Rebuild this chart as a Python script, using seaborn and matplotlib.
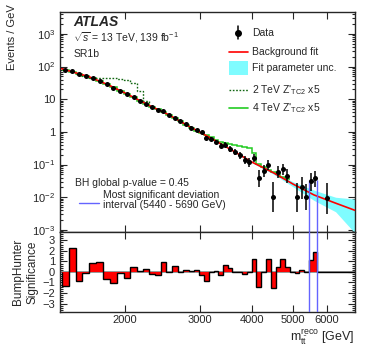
import numpy as np
import matplotlib
matplotlib.use("Agg")
import matplotlib.pyplot as plt
import seaborn as sns
from matplotlib.ticker import FixedLocator, NullFormatter, LogLocator, MultipleLocator

sns.set_theme(style="ticks")
plt.rcParams["font.family"] = ["Liberation Sans", "DejaVu Sans"]
plt.rcParams["mathtext.fontset"] = "custom"
plt.rcParams["mathtext.rm"] = "Liberation Sans"
plt.rcParams["mathtext.it"] = "Liberation Sans:italic"
plt.rcParams["mathtext.bf"] = "Liberation Sans:bold"

# ---------------------------------------------------------------------------
# data
# ---------------------------------------------------------------------------
bin_edges = [1415, 1468, 1525, 1584, 1645, 1708, 1773, 1840, 1910, 1982,
             2056, 2130, 2203, 2275, 2350, 2426, 2502, 2580, 2660, 2740,
             2825, 2910, 2995, 3075, 3155, 3240, 3325, 3410, 3500, 3590,
             3685, 3785, 3885, 3985, 4090, 4200, 4310, 4420, 4540, 4655,
             4780, 4905, 5035, 5165, 5300, 5440, 5565, 5690, 5815, 5940,
             6065, 6195, 6325, 6455, 6590, 6725, 6860, 7000]

nan = np.nan
data_vals = [78, 71.7, 59.1, 51.8, 44.2, 36.2, 28.5, 22.5, 18.2, 14.1,
             11.6, 9.05, 7.32, 5.88, 4.76, 4.22, 3.27, 2.73, 2.09, 1.71,
             1.36, 1.12, 0.96, 0.66, 0.60, 0.49, 0.38, 0.41, 0.30, 0.246,
             0.19, 0.14, 0.118, 0.161, 0.0376, 0.0646, 0.10, 0.0105, 0.060, 0.072,
             0.0455, nan, 0.0100, 0.021, 0.0100, 0.031, 0.0376, nan, nan, 0.0097,
             nan, nan, nan, nan, nan, nan, nan]

sig_vals = [-1.3, 2.27, -0.9, -0.1, 0.85, 0.9, -0.67, -1.05, -0.1, -0.55,
            0.45, 0.05, 0.25, -0.15, -0.3, 0.97, -0.05, 0.6, -0.05, 0.2,
            0.05, 0.15, -0.3, -0.9, 0.0, 0.05, -0.3, 0.65, 0.4, 0.0,
            0.0, -0.2, -0.05, 1.27, -1.42, 0.0, 1.27, -1.5, 0.45, 1.2,
            0.45, 0.0, -0.1, 0.15, 0.0, 1.15, 1.88, 0, 0, 0,
            0, 0, 0, 0, 0, 0, 0]

fit_mass = [1415, 1640, 1830, 2040, 2270, 2530, 2840, 3200, 3600, 4000,
            4500, 5000, 5600, 6300, 7000]
fit_vals = [85.1, 49.0, 26.9, 13.5, 6.61, 3.39, 1.45, 0.631, 0.263, 0.1175,
            0.055, 0.0251, 0.01175, 0.0066, 0.00398]

band_mass = [3600, 4000, 4500, 5000, 5600, 6300, 7000]
band_lo = [0.256, 0.112, 0.050, 0.0207, 0.0080, 0.0036, 0.0008]
band_hi = [0.270, 0.123, 0.060, 0.0295, 0.0165, 0.0100, 0.0088]

# 4 TeV Z'_TC2 x5 (signal + background), bins 0..40
z4_vals = [79.6, 69.2, 60.0, 51.9, 43.5, 35.5, 28.9, 23.1, 18.2, 14.4,
           11.4, 9.04, 7.24, 5.90, 4.84, 4.0, 3.28, 2.62, 2.10, 1.68,
           1.35, 1.10, 0.93, 0.79, 0.68, 0.575, 0.50, 0.447, 0.417, 0.39,
           0.363, 0.339, 0.316, 0.22, 0.105, 0.085, 0.070, 0.059, 0.050, 0.042,
           0.035]
# 2 TeV Z'_TC2 x5 (signal + background), bins 2..13
z2_vals = [60.0, 51.9, 46.0, 45.7, 44.7, 43.0, 41.5, 38.8, 30.2, 17.3, 9.0, 5.9]

bh_lo, bh_hi = 5440, 5690

edges = np.array(bin_edges, dtype=float)
widths = np.diff(edges)
centers = np.sqrt(edges[:-1] * edges[1:])
data = np.array(data_vals, dtype=float)

# Poisson-like error bars from the event counts
counts = np.round(data * widths)
lo_n = counts * (1 - 1 / (9 * counts) - 1 / (3 * np.sqrt(counts))) ** 3
hi_n = (counts + 1) * (1 - 1 / (9 * (counts + 1)) + 1 / (3 * np.sqrt(counts + 1))) ** 3
err_lo = (counts - lo_n) / widths
err_hi = (hi_n - counts) / widths

# ---------------------------------------------------------------------------
# figure
# ---------------------------------------------------------------------------
fig = plt.figure(figsize=(3.74, 3.59), dpi=100)
ax = fig.add_axes([0.160, 0.354, 0.789, 0.613])
ax2 = fig.add_axes([0.160, 0.131, 0.789, 0.223], sharex=ax)

red = "#ff0000"
cyan = "#7ffcff"
dgreen = "#116611"
lgreen = "#22cc22"
blue = "#6464ff"

ax.fill_between(band_mass, band_lo, band_hi, color=cyan, lw=0, zorder=1)
ax.stairs(z4_vals, edges[:len(z4_vals) + 1], color=lgreen, lw=1.1,
          baseline=None, zorder=2)
ax.stairs(z2_vals, edges[2:2 + len(z2_vals) + 1], color=dgreen, lw=1.0,
          ls=(0, (1.2, 1.2)), baseline=None, zorder=2)
sns.lineplot(x=fit_mass, y=fit_vals, ax=ax, color=red, lw=1.2, sort=False,
             estimator=None, zorder=3)
ax.errorbar(centers, data, yerr=[err_lo, err_hi], fmt="none", ecolor="black",
            elinewidth=1.1, zorder=4)
sns.scatterplot(x=centers, y=data, ax=ax, color="black", s=13, linewidth=0,
                zorder=5)
ax.vlines([bh_lo, bh_hi], 8e-4, 0.033, color=blue, lw=1.0, zorder=3)

ax.set_xscale("log")
ax.set_yscale("log")
ax.set_xlim(1400, 7000)
ax.set_ylim(8.7e-4, 4700)

ax.yaxis.set_major_locator(FixedLocator([1e-3, 1e-2, 1e-1, 1, 10, 100, 1000]))
ax.set_yticklabels(["10$^{-3}$", "10$^{-2}$", "10$^{-1}$", "1", "10",
                    "10$^{2}$", "10$^{3}$"], fontsize=8)
ax.yaxis.set_minor_locator(LogLocator(base=10, subs=np.arange(2, 10), numticks=20))
ax.yaxis.set_minor_formatter(NullFormatter())
ax.set_ylabel("")

xt = [2000, 3000, 4000, 5000, 6000]
ax.xaxis.set_major_locator(FixedLocator(xt))
ax.xaxis.set_minor_locator(FixedLocator([]))
ax.tick_params(axis="x", labelbottom=False)

for a in (ax, ax2):
    a.tick_params(which="both", direction="in", top=True, right=True, width=0.8)
    a.tick_params(which="major", length=5)
    a.tick_params(which="minor", length=2.5)
    for s in a.spines.values():
        s.set_linewidth(1.0)

# lower panel: BumpHunter significance
ax2.axhline(0, color="#888888", lw=1.2, zorder=1)
ax2.stairs(sig_vals, edges, fill=True, color=red, baseline=0, zorder=2)
ax2.stairs(sig_vals, edges, color="black", lw=1.0, baseline=0, zorder=3)
ax2.axvline(bh_lo, color=blue, lw=1.0, zorder=4)
ax2.axvline(bh_hi, color=blue, lw=1.0, zorder=4)
ax2.set_ylim(-3.8, 3.8)
ax2.yaxis.set_major_locator(MultipleLocator(1))
ax2.yaxis.set_minor_locator(MultipleLocator(0.2))
ax2.set_yticks([-3, -2, -1, 0, 1, 2, 3])
ax2.set_yticklabels(["\u22123", "\u22122", "\u22121", "0", "1", "2", "3"], fontsize=8)
ax2.xaxis.set_major_locator(FixedLocator(xt))
ax2.xaxis.set_minor_locator(FixedLocator([]))
ax2.set_xticklabels([str(v) for v in xt], fontsize=8)
ax2.tick_params(axis="x", pad=2.5)
ax2.set_ylabel("")
ax2.set_xlabel(r"m$_{\mathrm{t\bar{t}}}^{\mathrm{reco}}$ [GeV]", fontsize=9,
               loc="right", labelpad=1.5)

fig.text(12 / 374, 1 - 4 / 359, "Events / GeV", rotation=90, ha="center",
         va="top", fontsize=8)
fig.text(25 / 374, 1 - 272 / 359, "BumpHunter\nSignificance", rotation=90,
         ha="center", va="center", fontsize=8.5, linespacing=1.3)

# labels inside the main panel
tr = ax.transAxes
ax.text(0.045, 0.955, "ATLAS", transform=tr, fontsize=10, fontweight="bold",
        style="italic", va="center")
ax.text(0.045, 0.882, r"$\sqrt{s}$ = 13 TeV, 139 fb$^{-1}$", transform=tr,
        fontsize=7.5, va="center")
ax.text(0.045, 0.809, "SR1b", transform=tr, fontsize=7.5, va="center")
ax.text(0.05, 0.223, "BH global p-value = 0.45", transform=tr, fontsize=7.5,
        va="center")
ax.plot([0.065, 0.132], [0.132, 0.132], transform=tr, color=blue, lw=1.0)
ax.text(0.146, 0.168, "Most significant deviation", transform=tr, fontsize=7.5,
        va="center")
ax.text(0.146, 0.123, "interval (5440 - 5690 GeV)", transform=tr, fontsize=7.5,
        va="center")

# legend (top right)
lx0, lx1, tx = 0.573, 0.637, 0.651
ly = [0.905, 0.818, 0.745, 0.645, 0.564]
ax.plot([0.605, 0.605], [ly[0] - 0.03, ly[0] + 0.03], transform=tr,
        color="black", lw=1.1)
ax.plot([0.605], [ly[0]], transform=tr, marker="o", ms=4, color="black")
ax.plot([lx0, lx1], [ly[1], ly[1]], transform=tr, color=red, lw=1.2)
ax.add_patch(plt.Rectangle((lx0, ly[2] - 0.03), lx1 - lx0, 0.06, transform=tr,
                           color=cyan, lw=0))
ax.plot([lx0, lx1], [ly[3], ly[3]], transform=tr, color=dgreen, lw=1.0,
        ls=(0, (1.2, 1.2)))
ax.plot([lx0, lx1], [ly[4], ly[4]], transform=tr, color=lgreen, lw=1.2)
leg_txt = ["Data", "Background fit", "Fit parameter unc.",
           r"2 TeV Z$'_{\mathrm{TC2}}$ x5", r"4 TeV Z$'_{\mathrm{TC2}}$ x5"]
for y, t in zip(ly, leg_txt):
    ax.text(tx, y, t, transform=tr, fontsize=7.5, va="center")

fig.savefig("out.png", dpi=100)
